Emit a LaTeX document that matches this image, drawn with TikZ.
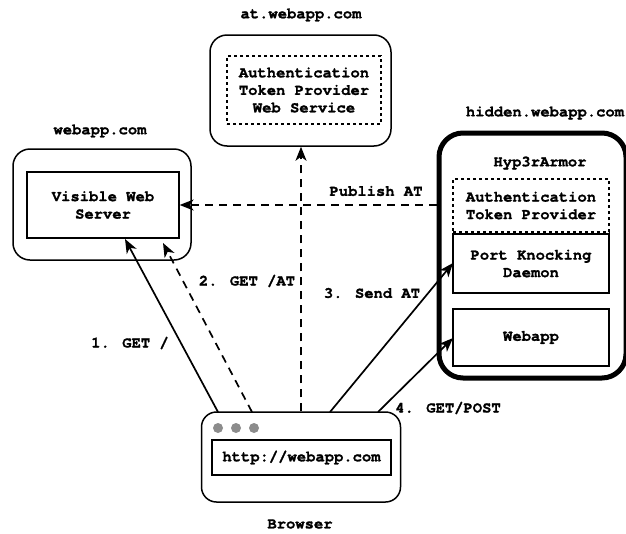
\documentclass[tikz,border=0pt]{standalone}
\usepackage{fontspec}
\setmainfont{TeX Gyre Cursor}[BoldFeatures={FakeBold=1.3}]
\usetikzlibrary{arrows.meta,calc}
\tikzset{
  lbl/.style={font=\fontsize{15.5}{17.5}\selectfont\bfseries, inner sep=0pt, align=center},
  outerbox/.style={draw, line width=1.5pt, rounded corners=17pt},
  innerbox/.style={draw, line width=1.3pt, font=\fontsize{15.5}{17.5}\selectfont\bfseries, align=center, inner sep=0pt},
  dotbox/.style={draw, line width=1.3pt, dash pattern=on 3pt off 3pt, font=\fontsize{15.5}{17.5}\selectfont\bfseries, align=center, inner sep=0pt},
  arr/.style={line width=1.7pt, -{Stealth[length=14pt,width=11pt,inset=4pt]}},
  darr/.style={arr, dash pattern=on 8pt off 6pt},
  dot/.style={circle, fill=black!45, draw=none, minimum size=10pt, inner sep=0pt}
}
\begin{document}
\begin{tikzpicture}[x=1pt,y=-1pt]
\useasboundingbox (0,0) rectangle (626,533);
% at.webapp.com
\node[lbl] (atlbl) at (301,15) {at.webapp.com};
\node[outerbox, minimum width=181pt, minimum height=111pt] (atbox) at (300.5,90.5) {};
\node[dotbox, minimum width=154pt, minimum height=68pt] (atin) at (304,90) {Authentication\\Token Provider\\Web Service};
% webapp.com
\node[lbl] (weblbl) at (100,131) {webapp.com};
\node[outerbox, minimum width=178pt, minimum height=111pt] (webbox) at (102,204.5) {};
\node[innerbox, minimum width=152pt, minimum height=66pt] (webin) at (103,205) {Visible Web\\Server};
% hidden.webapp.com
\node[lbl] (hidlbl) at (545,113) {hidden.webapp.com};
\node[draw, line width=5pt, rounded corners=24pt, minimum width=187pt, minimum height=245pt] (hidbox) at (532.5,255.5) {};
\node[lbl] (hyp) at (540,163) {Hyp3rArmor};
\node[dotbox, minimum width=156pt, minimum height=53pt] (atp) at (531,205.5) {Authentication\\Token Provider};
\node[innerbox, minimum width=156pt, minimum height=59pt] (pkd) at (531,263.5) {Port Knocking\\Daemon};
\node[innerbox, minimum width=156pt, minimum height=57pt] (wapp) at (531,337.5) {Webapp};
% Browser
\node[outerbox, rounded corners=15pt, minimum width=199pt, minimum height=90pt] (browser) at (301,457) {};
\node[innerbox, minimum width=179pt, minimum height=35pt] (url) at (301.5,457.5) {http://webapp.com};
\node[dot] (d1) at (218,428) {};
\node[dot] (d2) at (236,428) {};
\node[dot] (d3) at (254,428) {};
\node[lbl] (brlbl) at (300,524) {Browser};
% connector endpoints
\coordinate (b1) at (218,412);
\coordinate (b2) at (252,412);
\coordinate (b3) at (330,412);
\coordinate (b4) at (378,412);
\coordinate (t1) at (125,239);
\coordinate (t2) at (163,243);
\coordinate (t3) at (453,263);
\coordinate (t4) at (453,338);
% connectors
\draw[darr] (webin.east -| hidbox.west) -- (webin.east);
\draw[darr] (browser.north) -- (browser.north |- atbox.south);
\draw[arr] (b1) -- (t1);
\draw[darr] (b2) -- (t2);
\draw[arr] (b3) -- (t3);
\draw[arr] (b4) -- (t4);
% labels
\node[lbl] (l0) at (376,191) {Publish AT};
\node[lbl] (l1) at (130,343) {1. GET /};
\node[lbl] (l2) at (247,281) {2. GET /AT};
\node[lbl] (l3) at (372,293) {3. Send AT};
\node[lbl] (l4) at (448,408) {4. GET/POST};
\end{tikzpicture}
\end{document}
